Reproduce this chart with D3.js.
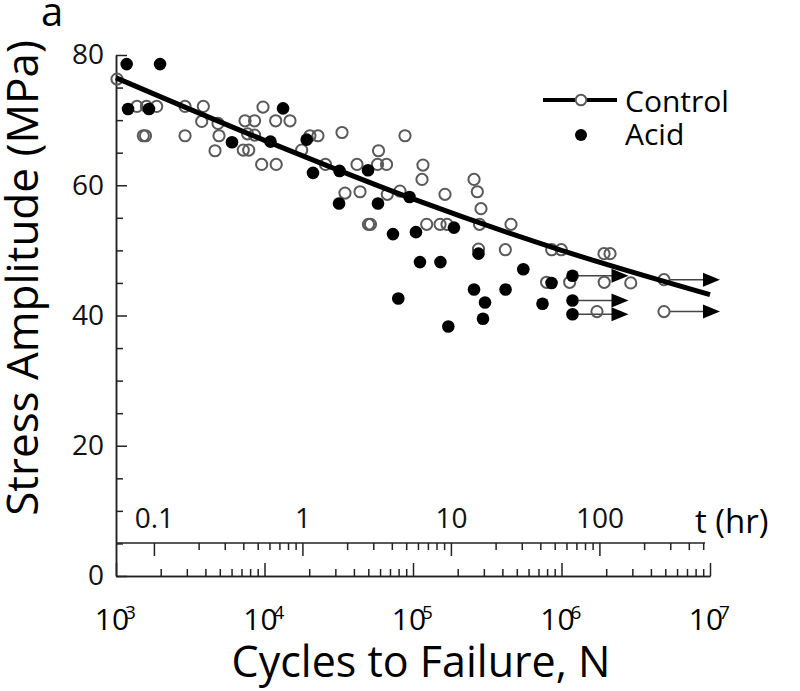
<!DOCTYPE html>
<html>
<head>
<meta charset="utf-8">
<script src="https://cdn.jsdelivr.net/npm/d3@7"></script>
<style>
body { margin: 0; background: #fff; }
svg { display: block; font-family: 'Open Sans', sans-serif; }
.axis text { font-family: 'Open Sans', sans-serif; fill: #111; }
.axis line, .axis path { stroke: #222; stroke-width: 1.5; }
</style>
</head>
<body>
<svg></svg>
<script>
var width = 800;
var height = 691;

// control specimens (open circles): cycles to failure and stress amplitude (MPa)
var controlN = [1016, 1384, 1603, 1879, 1527, 1580, 2917, 2917, 3873, 3777, 4862, 4939, 4643,
	7394, 8572, 7691, 8572, 7195, 7831, 9772, 11890, 14850, 9571, 11990, 17800, 20230, 22900,
	25740, 33270, 34830, 41970, 43980, 58600, 57700, 66350, 67140, 81700, 88300, 50120, 51730,
	116700, 115000, 164200, 123600, 152100, 169400, 257600, 271100, 287000, 280500, 276100,
	457000, 418600, 859000, 997000, 1933000, 2122000, 794000, 1135000, 1940000, 2927000, 1733000];
var controlS = [76.3, 72.1, 72.1, 72.1, 67.6, 67.6, 72.1, 67.6, 72.1, 69.8, 69.5, 67.6, 65.3,
	69.9, 69.9, 67.9, 67.7, 65.4, 65.4, 72.0, 69.9, 69.9, 63.2, 63.2, 65.4, 67.6, 67.6,
	63.2, 68.1, 58.8, 63.2, 59.0, 65.3, 63.2, 63.2, 58.6, 59.1, 67.6, 54.0, 54.0,
	63.1, 60.9, 58.6, 54.0, 54.0, 54.0, 60.9, 59.0, 56.4, 54.0, 50.2,
	54.0, 50.1, 50.1, 50.1, 49.5, 49.5, 45.1, 45.1, 45.1, 45.0, 40.6];
var controlRunoutN = [4900000, 4900000];
var controlRunoutS = [45.5, 40.6];

// acid exposed specimens (filled circles)
var acidN = [1180, 1980, 1205, 1667, 6040, 13330, 10970, 19230, 21210, 32000, 31770, 49800,
	58100, 73300, 104700, 94700, 188700, 111400, 153000, 276000, 79600, 257600, 305500,
	296000, 172900, 553000, 420000, 745000, 857000];
var acidS = [78.6, 78.6, 71.7, 71.7, 66.6, 71.8, 66.7, 67.0, 61.9, 62.2, 57.2, 62.3,
	57.2, 52.5, 52.8, 58.2, 53.5, 48.2, 48.2, 49.5, 42.6, 44.0, 42.0,
	39.5, 38.3, 47.1, 44.0, 41.8, 45.0];
var acidRunoutN = [1186000, 1186000, 1186000];
var acidRunoutS = [46.1, 42.3, 40.2];

// fitted S-N curve for the control group
var fitN = [1e3, 1e4, 1e5, 1e6, 1e7];
var fitS = [76.5, 66.9, 57.9, 50.0, 43.2];

// ticks
var yLabels = [0, 20, 40, 60, 80];
var yMinor = [5, 10, 15, 25, 30, 35, 45, 50, 55, 65, 70, 75];
var nDecades = [1e3, 1e4, 1e5, 1e6, 1e7];
var tLabels = [0.1, 1, 10, 100];
var tMinor = [0.2, 0.3, 0.4, 0.5, 0.6, 0.7, 0.8, 0.9, 2, 3, 4, 5, 6, 7, 8, 9,
	20, 30, 40, 50, 60, 70, 80, 90, 200, 300, 400, 500];
var cyclesPerHour = 18000; // 5 Hz

var svg = d3.select('svg')
			.attr('width', width)
			.attr('height', height);

var x = d3.scaleLog().domain([1e3, 1e7]).range([116, 710]);
var y = d3.scaleLinear().domain([0, 80]).range([576, 55]);
var t = d3.scaleLog()
		  .domain([1e3 / cyclesPerHour, 1e7 / cyclesPerHour])
		  .range([116, 710]);

var nMinor = nDecades.slice(0, 4).flatMap(d => d3.range(2, 10).map(k => k * d));

// y axis
svg.append('g')
	.classed('axis', true)
	.attr('transform', 'translate(116, 0)')
	.call(d3.axisLeft(y).tickValues(yMinor).tickSize(-7).tickSizeOuter(0).tickFormat(''));
svg.append('g')
	.classed('axis', true)
	.attr('transform', 'translate(116, 0)')
	.call(d3.axisLeft(y).tickValues(yLabels).tickSize(-11).tickSizeOuter(0).tickPadding(12))
	.call(g => g.selectAll('text').attr('font-size', 28));

// cycles axis (ticks pointing up)
svg.append('g')
	.classed('axis', true)
	.attr('transform', 'translate(0, 576)')
	.call(d3.axisBottom(x).tickValues(nMinor).tickSize(-7).tickSizeOuter(0).tickFormat(''));
svg.append('g')
	.classed('axis', true)
	.attr('transform', 'translate(0, 576)')
	.call(d3.axisBottom(x).tickValues(nDecades).tickSize(-13).tickSizeOuter(0).tickFormat(''));

var nLabel = svg.append('g')
	.selectAll('g')
	.data(nDecades)
	.enter()
	.append('g')
	  .attr('transform', d => `translate(${x(d)}, 0)`);
nLabel.append('text')
	  .attr('x', -4)
	  .attr('y', 630)
	  .attr('text-anchor', 'middle')
	  .attr('font-size', 30)
	  .text('10');
nLabel.append('text')
	  .attr('x', 9)
	  .attr('y', 619)
	  .attr('font-size', 19)
	  .text(d => Math.round(Math.log10(d)));

// time axis (hours), ticks pointing down
var tAxis = svg.append('g')
	.classed('axis', true)
	.attr('transform', 'translate(0, 543)');
tAxis.call(d3.axisTop(t).tickValues(tMinor).tickSize(-7).tickSizeOuter(0).tickFormat(''))
	.select('.domain').remove();
svg.append('g')
	.classed('axis', true)
	.attr('transform', 'translate(0, 543)')
	.call(d3.axisTop(t).tickValues(tLabels).tickSize(-13).tickSizeOuter(0).tickPadding(15).tickFormat(d => String(d)))
	.call(g => g.select('.domain').remove())
	.call(g => g.selectAll('text').attr('font-size', 28));
svg.append('line')
	.attr('x1', 116)
	.attr('x2', 705)
	.attr('y1', 543)
	.attr('y2', 543)
	.attr('stroke', '#222')
	.attr('stroke-width', 1.5);

svg.append('text')
	.attr('x', 695)
	.attr('y', 533)
	.attr('font-size', 33)
	.text('t (hr)');

// points
var control = controlN.map((n, i) => ({n: n, s: controlS[i]}));
var acid = acidN.map((n, i) => ({n: n, s: acidS[i]}));
var runouts = controlRunoutN.map((n, i) => ({n: n, s: controlRunoutS[i], open: true}))
	.concat(acidRunoutN.map((n, i) => ({n: n, s: acidRunoutS[i], open: false})));

var arrowLength = 56;
var arrows = svg.append('g')
	.selectAll('g')
	.data(runouts)
	.enter()
	.append('g')
	  .attr('transform', d => `translate(${x(d.n)}, ${y(d.s)})`);
arrows.append('line')
	  .attr('x1', 6)
	  .attr('x2', arrowLength - 14)
	  .attr('stroke', '#444')
	  .attr('stroke-width', 1.5);
arrows.append('path')
	  .attr('d', `M${arrowLength - 17},-7L${arrowLength},0L${arrowLength - 17},7Z`)
	  .attr('fill', '#000');

svg.append('g')
	.selectAll('circle')
	.data(control.concat(runouts.filter(d => d.open)))
	.enter()
	.append('circle')
	  .attr('cx', d => x(d.n))
	  .attr('cy', d => y(d.s))
	  .attr('r', 5.6)
	  .attr('fill', 'none')
	  .attr('stroke', '#5a5a5a')
	  .attr('stroke-width', 2);

svg.append('g')
	.selectAll('circle')
	.data(acid.concat(runouts.filter(d => !d.open)))
	.enter()
	.append('circle')
	  .attr('cx', d => x(d.n))
	  .attr('cy', d => y(d.s))
	  .attr('r', 6.3)
	  .attr('fill', '#000');

// fitted curve
var fit = fitN.map((n, i) => ({n: n, s: fitS[i]}));
svg.append('path')
	.datum(fit)
	.attr('fill', 'none')
	.attr('stroke', '#000')
	.attr('stroke-width', 5)
	.attr('d', d3.line().x(d => x(d.n)).y(d => y(d.s)).curve(d3.curveMonotoneX));

// legend
svg.append('line')
	.attr('x1', 543)
	.attr('x2', 617)
	.attr('y1', 100)
	.attr('y2', 100)
	.attr('stroke', '#000')
	.attr('stroke-width', 4);
svg.append('circle')
	.attr('cx', 581)
	.attr('cy', 100)
	.attr('r', 5.3)
	.attr('fill', '#fff')
	.attr('stroke', '#5a5a5a')
	.attr('stroke-width', 2);
svg.append('circle')
	.attr('cx', 581)
	.attr('cy', 135)
	.attr('r', 6)
	.attr('fill', '#000');
svg.append('text')
	.attr('x', 625)
	.attr('y', 112)
	.attr('font-size', 30)
	.text('Control');
svg.append('text')
	.attr('x', 625)
	.attr('y', 145)
	.attr('font-size', 30)
	.text('Acid');

// titles
svg.append('text')
	.attr('text-anchor', 'middle')
	.attr('x', 421)
	.attr('y', 677)
	.attr('font-size', 43)
	.text('Cycles to Failure, N');
svg.append('text')
	.attr('text-anchor', 'middle')
	.attr('transform', 'translate(38, 278) rotate(-90)')
	.attr('font-size', 44)
	.text('Stress Amplitude (MPa)');
svg.append('text')
	.attr('x', 41)
	.attr('y', 26)
	.attr('font-size', 40)
	.text('a');
</script>
</body>
</html>
